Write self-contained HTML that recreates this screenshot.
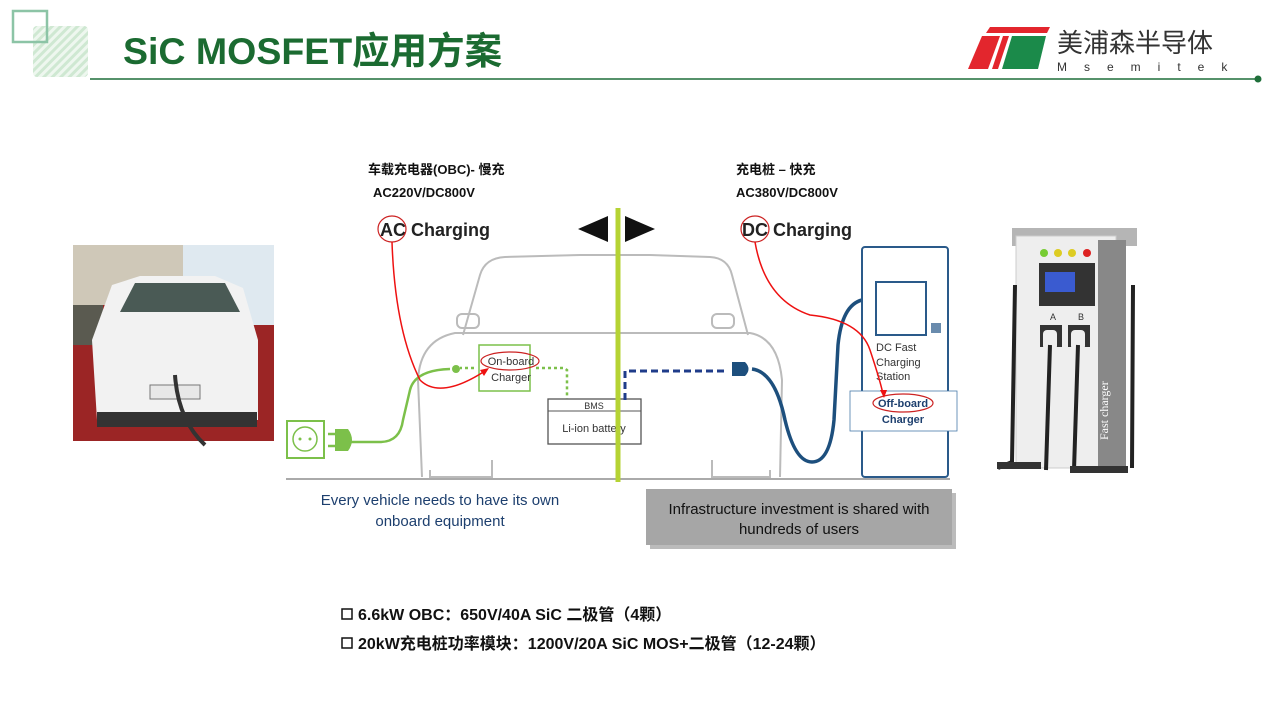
<!DOCTYPE html>
<html><head><meta charset="utf-8"><style>
html,body{margin:0;padding:0;background:#fff;}
body{width:1280px;height:720px;position:relative;overflow:hidden;font-family:"Liberation Sans","Noto Sans CJK SC",sans-serif;}
</style></head><body>
<svg width="1280" height="720" viewBox="0 0 1280 720" xmlns="http://www.w3.org/2000/svg" style="position:absolute;left:0;top:0">
<defs>
<pattern id="hatch" width="6" height="6" patternUnits="userSpaceOnUse" patternTransform="rotate(45)">
<rect width="6" height="6" fill="#eef7ef"/><rect width="3" height="6" fill="#cfe8d2"/></pattern>
</defs>
<rect x="33" y="26" width="55" height="51" rx="4" fill="url(#hatch)"/>
<rect x="13" y="11" width="34" height="31" fill="none" stroke="#8cc4a6" stroke-width="2.5"/>
<line x1="90" y1="79" x2="1258" y2="79" stroke="#1f6f3a" stroke-width="1.5"/>
<circle cx="1258" cy="79" r="3.5" fill="#1f6f3a"/>
<text x="123" y="64" font-family="'Liberation Sans','Noto Sans CJK SC',sans-serif" font-weight="bold" font-size="37.5" fill="#1b6b31">SiC MOSFET应用方案</text>
<polygon points="990,27 1050,27 1047,33 986,33" fill="#e3262d"/>
<polygon points="982,36 1000,36 988,69 968,69" fill="#e3262d"/>
<polygon points="1003,36 1009,36 998,69 992,69" fill="#e3262d"/>
<polygon points="1012,36 1046,36 1038,69 1002,69" fill="#1b8a4a"/>
<text x="1057" y="52" font-family="'Noto Sans CJK SC',sans-serif" font-size="26" fill="#333">美浦森半导体</text>
<text x="1057" y="71" font-family="'Liberation Sans',sans-serif" font-size="12" fill="#333" letter-spacing="17">Msemitek</text>

<rect x="73" y="245" width="201" height="196" fill="#9b2525"/>
<rect x="73" y="245" width="110" height="60" fill="#cfc8b8"/>
<rect x="183" y="245" width="91" height="80" fill="#dfe9f0"/>
<rect x="73" y="305" width="30" height="40" fill="#5a5a50"/>
<path d="M97 420 L92 340 L112 285 L140 276 L215 276 L243 288 L258 340 L258 420 Z" fill="#f2f2f2"/>
<path d="M120 312 L135 283 L225 283 L240 312 Z" fill="#4a5a55"/>
<rect x="97" y="412" width="160" height="15" fill="#333"/>
<rect x="150" y="385" width="50" height="14" fill="#e8e8e8" stroke="#777"/>
<path d="M175 375 Q178 420 205 445" stroke="#333" stroke-width="4" fill="none"/>

<g font-family="'Liberation Sans','Noto Sans CJK SC',sans-serif">
<text x="368" y="174" font-size="13" font-weight="bold" fill="#111">车载充电器(OBC)- 慢充</text>
<text x="373" y="197" font-size="13" font-weight="bold" fill="#111">AC220V/DC800V</text>
<text x="736" y="174" font-size="13" font-weight="bold" fill="#111">充电桩 – 快充</text>
<text x="736" y="197" font-size="13" font-weight="bold" fill="#111">AC380V/DC800V</text>
<text x="380" y="236" font-size="18" font-weight="bold" fill="#222">AC Charging</text>
<ellipse cx="392" cy="229" rx="14" ry="13" fill="none" stroke="#c22" stroke-width="1.2"/>
<text x="742" y="236" font-size="18" font-weight="bold" fill="#222">DC Charging</text>
<ellipse cx="755" cy="229" rx="14" ry="13" fill="none" stroke="#c22" stroke-width="1.2"/>
<polygon points="578,229 608,216 608,242" fill="#111"/>
<polygon points="655,229 625,216 625,242" fill="#111"/>

<line x1="286" y1="479" x2="950" y2="479" stroke="#aaa" stroke-width="2"/>
<g fill="none" stroke="#bbb" stroke-width="2">
<path d="M463 335 L480 275 Q485 258 505 257 L580 255 L650 255 L710 257 Q728 258 732 275 L748 335"/>
<path d="M422 477 L418 380 Q420 340 455 333 L750 333 Q778 338 782 380 L780 477"/>
<rect x="457" y="314" width="22" height="14" rx="5"/>
<rect x="712" y="314" width="22" height="14" rx="5"/>
<path d="M430 470 L430 477 L492 477 L492 460"/>
<path d="M712 460 L712 477 L770 477 L770 470"/>
</g>
<rect x="479" y="345" width="51" height="46" fill="#fff" stroke="#7cc04a" stroke-width="1.5"/>
<text x="511" y="365" font-size="11" fill="#333" text-anchor="middle">On-board</text>
<text x="511" y="381" font-size="11" fill="#333" text-anchor="middle">Charger</text>
<ellipse cx="510" cy="361" rx="29" ry="9" fill="none" stroke="#c22" stroke-width="1.2"/>
<path d="M536 368 L564 368 L567 370 L567 400" stroke="#7cc04a" stroke-width="2.5" stroke-dasharray="3,3" fill="none"/>
<path d="M474 368 L460 368" stroke="#7cc04a" stroke-width="2.5" stroke-dasharray="3,3"/>
<circle cx="456" cy="369" r="4" fill="#7cc04a"/>
<rect x="548" y="399" width="93" height="45" fill="#fff" stroke="#555" stroke-width="1.3"/>
<line x1="548" y1="411" x2="641" y2="411" stroke="#555"/>
<text x="594" y="409" font-size="9" fill="#333" text-anchor="middle">BMS</text>
<text x="594" y="432" font-size="11" fill="#333" text-anchor="middle">Li-ion battery</text>
<path d="M625 400 L625 371 L728 371" stroke="#1f3c8a" stroke-width="3" stroke-dasharray="7,4" fill="none"/>
<path d="M732 362 L745 362 Q752 369 745 376 L732 376 Z" fill="#1d4f7d"/>
<rect x="287" y="421" width="37" height="37" fill="#fff" stroke="#7cc04a" stroke-width="2"/>
<circle cx="305" cy="439" r="12" fill="none" stroke="#7cc04a" stroke-width="1.5"/>
<circle cx="300" cy="439" r="1.5" fill="#7cc04a"/><circle cx="310" cy="439" r="1.5" fill="#7cc04a"/>
<path d="M328 434 L335 434 M328 446 L335 446" stroke="#7cc04a" stroke-width="2.5"/>
<path d="M335 429 L348 429 Q356 440 348 451 L335 451 Z" fill="#7cc04a"/>
<path d="M350 442 L380 442 Q400 442 403 420 L410 390 Q415 370 450 369" stroke="#7cc04a" stroke-width="2.5" fill="none"/>
<path d="M752 369 Q775 372 785 420 Q795 462 812 462 Q830 462 834 420 L838 345 Q842 305 862 300" stroke="#1d4f7d" stroke-width="3.5" fill="none"/>
<rect x="862" y="247" width="86" height="230" rx="3" fill="#fff" stroke="#2a5a8a" stroke-width="2"/>
<rect x="876" y="282" width="50" height="53" fill="none" stroke="#2a5a8a" stroke-width="2"/>
<rect x="931" y="323" width="10" height="10" fill="#2a5a8a" opacity="0.7"/>
<text x="876" y="351" font-size="11" fill="#333">DC Fast</text>
<text x="876" y="366" font-size="11" fill="#333">Charging</text>
<text x="876" y="380" font-size="11" fill="#333">Station</text>
<rect x="850" y="391" width="107" height="40" fill="#fff" stroke="#4a7aaa" stroke-width="0.8"/>
<text x="903" y="407" font-size="11" font-weight="bold" fill="#1d3f6e" text-anchor="middle">Off-board</text>
<text x="903" y="423" font-size="11" font-weight="bold" fill="#1d3f6e" text-anchor="middle">Charger</text>
<ellipse cx="903" cy="403" rx="30" ry="9" fill="none" stroke="#c22" stroke-width="1.2"/>
<path d="M392 242 Q395 330 420 380 Q440 400 485 371" stroke="#e11" stroke-width="1.5" fill="none"/>
<polygon points="489,368 480,370 484,376" fill="#e11"/>
<path d="M755 242 Q765 300 810 315 Q860 320 870 350 Q880 380 883 394" stroke="#e11" stroke-width="1.5" fill="none"/>
<polygon points="884,398 880,390 887,390" fill="#e11"/>
<line x1="618" y1="208" x2="618" y2="482" stroke="#b5d334" stroke-width="5"/>
<text x="440" y="505" font-size="15" fill="#1d3f6e" text-anchor="middle">Every vehicle needs to have its own</text>
<text x="440" y="526" font-size="15" fill="#1d3f6e" text-anchor="middle">onboard equipment</text>
<rect x="650" y="493" width="306" height="56" fill="#bbb"/>
<rect x="646" y="489" width="306" height="56" fill="#a6a6a6"/>
<text x="799" y="514" font-size="15" fill="#111" text-anchor="middle">Infrastructure investment is shared with</text>
<text x="799" y="534" font-size="15" fill="#111" text-anchor="middle">hundreds of users</text>
</g>

<rect x="1012" y="228" width="125" height="18" fill="#b5b5b5"/>
<rect x="1016" y="236" width="100" height="232" fill="#eee" stroke="#ccc"/>
<rect x="1098" y="240" width="28" height="228" fill="#888"/>
<circle cx="1044" cy="253" r="4" fill="#7c3"/><circle cx="1058" cy="253" r="4" fill="#dc2"/><circle cx="1072" cy="253" r="4" fill="#dc2"/><circle cx="1087" cy="253" r="4" fill="#d22"/>
<rect x="1039" y="263" width="56" height="43" fill="#333"/>
<rect x="1045" y="272" width="30" height="20" fill="#3a5bd0"/>
<text x="1050" y="320" font-size="9" fill="#333" font-family="'Liberation Sans',sans-serif">A</text><text x="1078" y="320" font-size="9" fill="#333" font-family="'Liberation Sans',sans-serif">B</text>
<rect x="1040" y="325" width="22" height="22" fill="#333"/><rect x="1068" y="325" width="22" height="22" fill="#333"/>
<rect x="1043" y="330" width="14" height="20" rx="4" fill="#eee"/><rect x="1071" y="330" width="14" height="20" rx="4" fill="#eee"/>
<path d="M1050 345 L1046 470 M1078 345 L1074 470 M1015 285 L1012 462 L998 468 M1133 285 L1132 468" stroke="#222" stroke-width="4" fill="none"/>
<rect x="997" y="462" width="44" height="7" fill="#333"/><rect x="1070" y="466" width="58" height="7" fill="#333"/>
<text transform="translate(1108,440) rotate(-90)" font-family="'Liberation Serif',serif" font-size="12" fill="#fff">Fast charger</text>

<g font-family="'Liberation Sans','Noto Sans CJK SC',sans-serif" font-weight="bold" font-size="16" fill="#111">
<rect x="342" y="609" width="10" height="10" fill="none" stroke="#111" stroke-width="1.5"/>
<text x="358" y="620">6.6kW OBC：650V/40A SiC 二极管（4颗）</text>
<rect x="342" y="638" width="10" height="10" fill="none" stroke="#111" stroke-width="1.5"/>
<text x="358" y="649">20kW充电桩功率模块：1200V/20A SiC MOS+二极管（12-24颗）</text>
</g>
</svg>
</body></html>
